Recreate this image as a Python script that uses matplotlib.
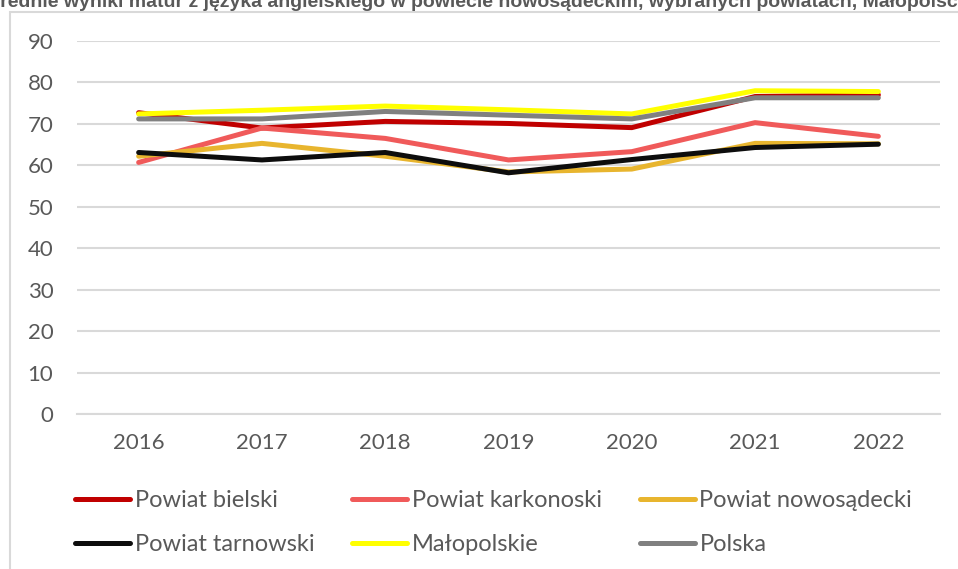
import matplotlib
matplotlib.use("Agg")
from matplotlib import pyplot as plt
from matplotlib.patches import Rectangle

TITLE = ("Średnie wyniki matur z języka angielskiego w powiecie nowosądeckim, "
         "wybranych powiatach, Małopolsce i Polsce")
YEARS = ["2016", "2017", "2018", "2019", "2020", "2021", "2022"]

bielski = [72.7, 69.0, 70.6, 70.1, 69.1, 76.6, 77.0]
karkonoski = [60.7, 69.0, 66.5, 61.3, 63.3, 70.3, 67.0]
nowosadecki = [62.2, 65.3, 62.2, 58.4, 59.1, 65.3, 65.2]
tarnowski = [63.1, 61.3, 63.1, 58.2, 61.4, 64.3, 65.1]
malopolskie = [72.4, 73.3, 74.3, 73.4, 72.4, 78.0, 77.8]
polska = [71.2, 71.2, 73.0, 72.1, 71.2, 76.3, 76.3]

SERIES = [
    ("Powiat bielski", bielski, "#C00000"),
    ("Powiat karkonoski", karkonoski, "#F05A5A"),
    ("Powiat nowosądecki", nowosadecki, "#E8B52E"),
    ("Powiat tarnowski", tarnowski, "#0D0D0D"),
    ("Małopolskie", malopolskie, "#FFFF00"),
    ("Polska", polska, "#808080"),
]

TEXT = "#595959"
GRID = "#D9D9D9"
plt.rcParams["font.family"] = ["Lato", "DejaVu Sans"]

fig = plt.figure(figsize=(9.58, 5.69), dpi=100)
ax = fig.add_axes([77 / 958, 1 - 414 / 569, 863 / 958, 373 / 569])

x = list(range(len(YEARS)))
lines = {}
for label, vals, color in SERIES:
    (ln,) = ax.plot(x, vals, color=color, lw=3.6, label=label,
                    solid_capstyle="round", solid_joinstyle="round")
    lines[label] = ln

ax.set_xlim(-0.5, len(YEARS) - 0.5)
ax.set_ylim(0, 90)
ax.set_yticks(range(0, 91, 10))
ax.set_xticks(x)
ax.set_xticklabels(YEARS)
ax.tick_params(length=0, labelsize=16, colors=TEXT)
ax.tick_params(axis="y", pad=17)
ax.tick_params(axis="x", pad=14)
ax.grid(axis="y", color=GRID, lw=1.5)
ax.set_axisbelow(True)
for side in ("left", "right", "top"):
    ax.spines[side].set_visible(False)
ax.spines["bottom"].set_color(GRID)
ax.spines["bottom"].set_linewidth(1.5)

# legend: column-wise order so rows match the reference
order = ["Powiat bielski", "Powiat tarnowski", "Powiat karkonoski",
         "Małopolskie", "Powiat nowosądecki", "Polska"]
leg = fig.legend([lines[k] for k in order], order, ncol=3,
                 loc="upper left", bbox_to_anchor=(75 / 958, 1 - 490 / 569),
                 frameon=False, fontsize=17, handlelength=2.33,
                 handletextpad=0.2, columnspacing=1.6, labelspacing=0.98,
                 borderpad=0, borderaxespad=0)
for t in leg.get_texts():
    t.set_color(TEXT)

# chart border and clipped title (cut off in the reference too)
fig.add_artist(Rectangle((10 / 958, -0.05), 1.0, 1 - 12 / 569 + 0.05,
                         transform=fig.transFigure, fill=False,
                         edgecolor=GRID, lw=1.5))
fig.text(-13 / 958, 1 - 7 / 569, TITLE, ha="left", va="baseline",
         fontsize=14, fontweight="bold", color=TEXT,
         family=["Liberation Sans", "DejaVu Sans"])

fig.savefig("out.png", dpi=100)
